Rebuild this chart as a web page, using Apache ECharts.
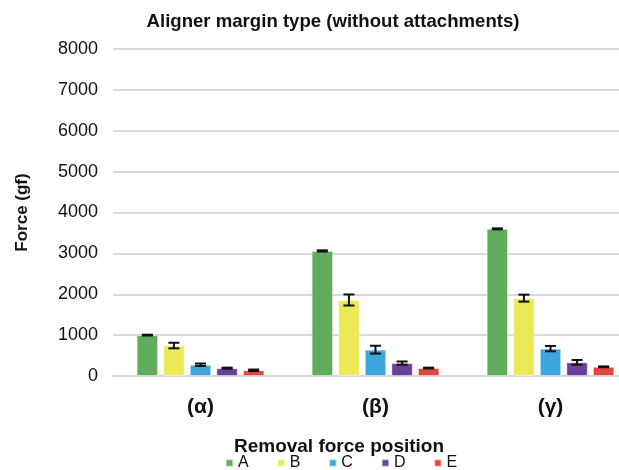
<!DOCTYPE html>
<html>
<head>
<meta charset="utf-8">
<style>
  html, body { margin: 0; padding: 0; background: #fff; }
  #chart { width: 619px; height: 470px; }
</style>
<script src="https://cdn.jsdelivr.net/npm/echarts@6/dist/echarts.min.js"></script>
</head>
<body>
<div id="chart"></div>
<script>
// data (gf)
const categories = ['(α)', '(β)', '(γ)']
const positions = ['A', 'B', 'C', 'D', 'E']
const valuesA = [1000, 3060, 3600]
const valuesB = [745, 1860, 1905]
const valuesC = [275, 645, 670]
const valuesD = [190, 315, 335]
const valuesE = [140, 195, 225]
const errA = [10, 15, 12]
const errB = [68, 135, 85]
const errC = [30, 95, 65]
const errD = [14, 40, 57]
const errE = [18, 10, 10]

const colors = ['#5fac5b', '#ece957', '#3fa6dd', '#6c3f9c', '#e0463f']
const allValues = [valuesA, valuesB, valuesC, valuesD, valuesE]
const allErrs = [errA, errB, errC, errD, errE]

const CAT_GAP = 0.27
const BAR_GAP = 0.24
const FONT = '"Liberation Sans", Arial, sans-serif'

function makeBars() {
  return positions.map(function(name, i) {
    return {
      name: name,
      type: 'bar',
      barGap: (BAR_GAP * 100) + '%',
      barCategoryGap: (CAT_GAP * 100) + '%',
      itemStyle: { color: colors[i], borderColor: 'rgba(255,255,255,0.45)', borderWidth: 1 },
      data: allValues[i]
    }
  })
}

function makeErrors() {
  return positions.map(function(name, i) {
    return {
      type: 'custom',
      z: 5,
      silent: true,
      data: allValues[i].map(function(v, j) { return [j, v, allErrs[i][j]] }),
      renderItem: function(params, api) {
        const band = api.size([1, 0])[0]
        const barW = band * (1 - CAT_GAP) / (5 + 4 * BAR_GAP)
        const offset = (i - 2) * barW * (1 + BAR_GAP)
        const v = api.value(1)
        const e = api.value(2)
        const hi = api.coord([api.value(0), v + e])
        const lo = api.coord([api.value(0), v - e])
        const x = hi[0] + offset
        const cap = 5.5
        const style = { stroke: '#111', lineWidth: 2 }
        return {
          type: 'group',
          children: [
            { type: 'line', shape: { x1: x, y1: hi[1], x2: x, y2: lo[1] }, style: style },
            { type: 'line', shape: { x1: x - cap, y1: hi[1], x2: x + cap, y2: hi[1] }, style: style },
            { type: 'line', shape: { x1: x - cap, y1: lo[1], x2: x + cap, y2: lo[1] }, style: style }
          ]
        }
      }
    }
  })
}

const chart = echarts.init(document.getElementById('chart'))
chart.setOption({
  animation: false,
  backgroundColor: '#fff',
  title: [
    {
      text: 'Aligner margin type (without attachments)',
      left: 328,
      top: 7,
      textAlign: 'center',
      textStyle: { fontFamily: FONT, fontSize: 18.6, fontWeight: 'bold', color: '#111' }
    },
    {
      text: 'Removal force position',
      left: 334,
      top: 432,
      textAlign: 'center',
      textStyle: { fontFamily: FONT, fontSize: 19, fontWeight: 'bold', color: '#111' }
    }
  ],
  legend: {
    data: positions,
    left: 225,
    top: 455,
    padding: 0,
    itemWidth: 7,
    itemHeight: 7,
    itemGap: 28,
    icon: 'rect',
    textStyle: { fontFamily: FONT, fontSize: 16, color: '#111' }
  },
  grid: { left: 113, top: 49, width: 525, height: 327, outerBoundsMode: 'none' },
  xAxis: {
    type: 'category',
    data: categories,
    axisTick: { show: false },
    axisLine: { lineStyle: { color: '#d6d6d6', width: 2 } },
    axisLabel: {
      margin: 21,
      fontFamily: FONT,
      fontSize: 21,
      fontWeight: 'bold',
      color: '#111'
    }
  },
  yAxis: {
    type: 'value',
    min: 0,
    max: 8000,
    interval: 1000,
    name: 'Force (gf)',
    nameLocation: 'middle',
    nameGap: 82,
    nameTextStyle: { fontFamily: FONT, fontSize: 17, fontWeight: 'bold', color: '#111' },
    axisLine: { show: false },
    axisTick: { show: false },
    axisLabel: {
      margin: 15,
      fontFamily: FONT,
      fontSize: 18,
      color: '#111',
      formatter: function(v) { return String(v) }
    },
    splitLine: { lineStyle: { color: '#d9d9d9', width: 2 } }
  },
  series: makeBars().concat(makeErrors())
})
</script>
</body>
</html>
